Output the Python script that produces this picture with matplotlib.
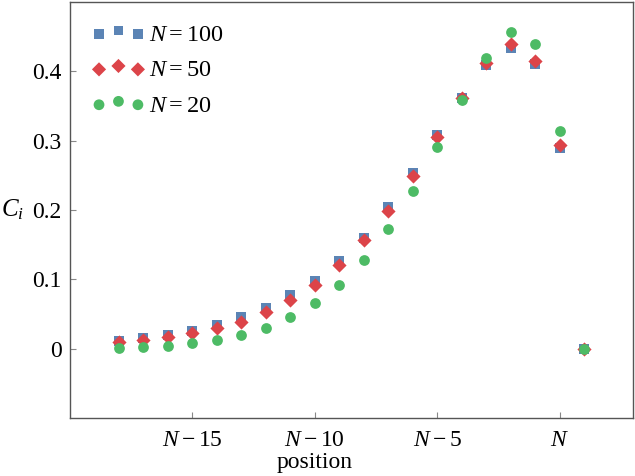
import numpy as np
import matplotlib
matplotlib.use('Agg')
import matplotlib.pyplot as plt

# 数据：位置相对 N 的偏移
position = [-18, -17, -16, -15, -14, -13, -12, -11, -10, -9,
            -8, -7, -6, -5, -4, -3, -2, -1, 0, 1]

c_n100 = [0.011, 0.015, 0.020, 0.026, 0.034, 0.045, 0.058, 0.077, 0.098, 0.127,
          0.160, 0.204, 0.253, 0.308, 0.362, 0.409, 0.434, 0.410, 0.289, 0.0]
c_n50 = [0.009, 0.013, 0.016, 0.022, 0.029, 0.039, 0.053, 0.070, 0.092, 0.121,
         0.157, 0.199, 0.249, 0.305, 0.362, 0.412, 0.439, 0.415, 0.294, 0.0]
c_n20 = [0.001, 0.002, 0.004, 0.008, 0.013, 0.020, 0.030, 0.045, 0.066, 0.092,
         0.128, 0.173, 0.228, 0.291, 0.359, 0.419, 0.457, 0.439, 0.314, 0.0]

tick_pos = [-15, -10, -5, 0]
tick_labels = [r'$N-15$', r'$N-10$', r'$N-5$', r'$N$']

plt.rcParams['font.family'] = ['Liberation Serif', 'DejaVu Serif']
plt.rcParams['mathtext.fontset'] = 'custom'
plt.rcParams['mathtext.rm'] = 'Liberation Serif'
plt.rcParams['mathtext.it'] = 'Liberation Serif:italic'

fig = plt.figure(figsize=(6.35, 4.76), dpi=100)
ax = fig.add_axes([0.110, 0.122, 0.887, 0.874])

ax.scatter(position, c_n100, marker='s', s=44, color='#5b84b5', label=r'$N=100$', zorder=3, linewidths=0)
ax.scatter(position, c_n50, marker='D', s=52, color='#dc4449', label=r'$N=50$', zorder=4, linewidths=0)
ax.scatter(position, c_n20, marker='o', s=60, color='#4dbb65', label=r'$N=20$', zorder=5, linewidths=0)

ax.set_xlim(-20, 3)
ax.set_ylim(-0.1, 0.5)
ax.set_xticks(tick_pos)
ax.set_xticklabels(tick_labels)
ax.set_yticks([0, 0.1, 0.2, 0.3, 0.4])
ax.set_yticklabels(['0', '0.1', '0.2', '0.3', '0.4'])
ax.tick_params(direction='in', length=4, width=0.8, color='#888888', labelsize=17, pad=6)
ax.tick_params(axis='x', pad=9)

for sp in ax.spines.values():
    sp.set_color('#555555')
    sp.set_linewidth(1.0)

ax.set_xlabel('position', fontsize=17)
ax.xaxis.set_label_coords(0.435, -0.083)
ax.set_ylabel(r'$C_i$', fontsize=18, rotation=0, va='center', ha='center')
ax.yaxis.set_label_coords(-0.101, 0.5)

ax.legend(loc='upper left', frameon=False, fontsize=17.5, scatterpoints=3,
          scatteryoffsets=[0.4, 0.6, 0.4], handletextpad=0.15, labelspacing=0.55,
          borderaxespad=0.5, handlelength=2.2)

fig.savefig('out.png', dpi=100)
